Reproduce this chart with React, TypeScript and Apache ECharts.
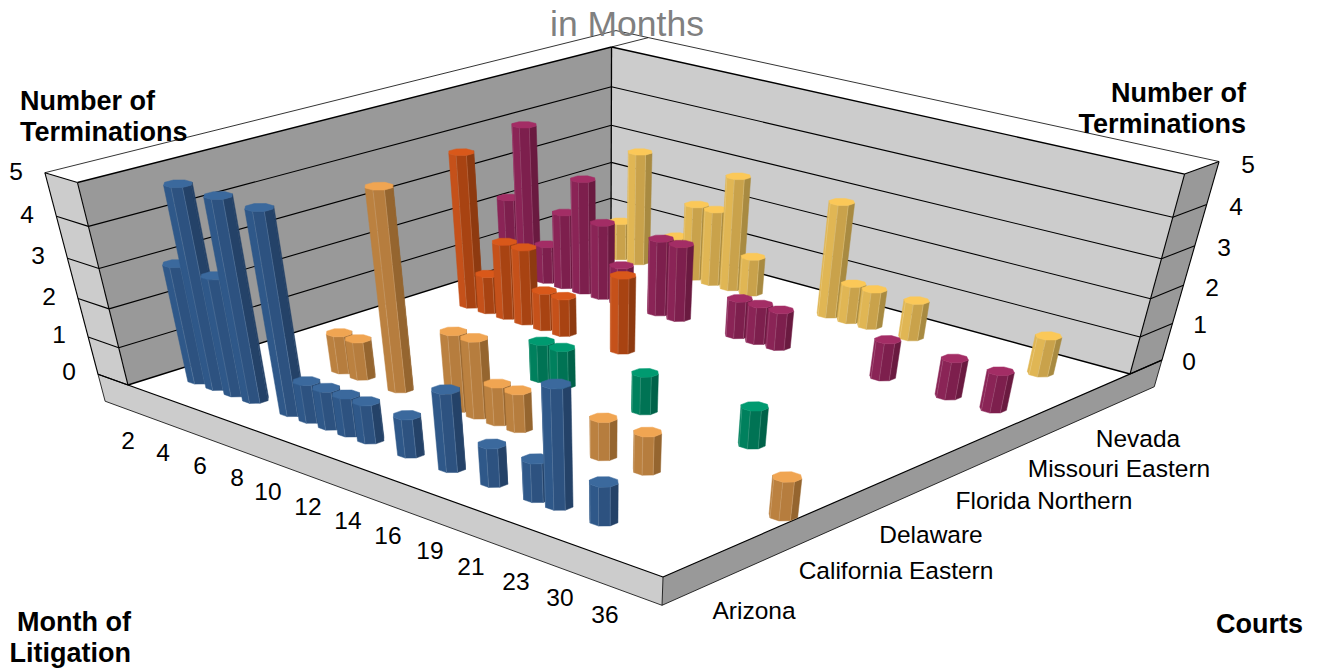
import React, { useEffect, useRef } from "react";
import * as echarts from "echarts";

// ---------- data: [month slot on the axis, number of terminations] ----------
const courts = ["Arizona", "California Eastern", "Delaware", "Florida Northern", "Missouri Eastern", "Nevada"];
const monthLabels = ["2", "4", "6", "8", "10", "12", "14", "16", "19", "21", "23", "30", "36"];
const countLabels = ["0", "1", "2", "3", "4", "5"];

const arizona = [[1, 3], [2, 5], [3, 3], [4, 5], [6, 5], [7, 1], [8, 1], [9, 1], [10, 1], [12, 1], [14, 2], [16, 1], [18, 1], [19, 3], [21, 1]];
const californiaEastern = [[4, 1], [5, 1], [7, 5], [10, 2], [11, 2], [12, 1], [13, 1], [17, 1], [19, 1], [25, 1]];
const delaware = [[10, 1], [11, 1], [15, 1], [20, 1]];
const floridaNorthern = [[2, 4], [3, 1], [4, 2], [5, 2], [6, 1], [7, 1], [10, 2]];
const missouriEastern = [[0, 2], [1, 4], [2, 1], [3, 2], [4, 3], [5, 2], [6, 1], [8, 2], [9, 2], [12, 1], [13, 1], [14, 1], [19, 1], [22, 1], [24, 1]];
const nevada = [[2, 1], [3, 3], [5, 1], [6, 2], [7, 2], [8, 3], [9, 1], [13, 3], [14, 1], [15, 1], [17, 1], [23, 1]];

const rows = [arizona, californiaEastern, delaware, floridaNorthern, missouriEastern, nevada];
// [top, lit side, middle side, shaded side, edge highlight]
const palettes = [
  ["#3b699d", "#2f5889", "#2d5280", "#244268", "#8ea8c6"],
  ["#f0a552", "#bb8140", "#b67d3e", "#95652f", "#e6c8a2"],
  ["#009a70", "#00805d", "#007354", "#006249", "#74c0aa"],
  ["#d9581a", "#c5511a", "#a84312", "#8e3a10", "#e0a888"],
  ["#a32d65", "#8a2456", "#7d1f4d", "#6a1a40", "#c48aa6"],
  ["#fbc858", "#e0b654", "#c9a24b", "#a88a41", "#f2e0b0"],
];

// ---------- layout ----------
const W = 1319;
const H = 669;
const FONT = '"Liberation Sans", Arial, sans-serif';
const monthLabelPos = [[128, 440], [163, 452], [200, 465], [237, 477], [268, 491], [308, 506], [348, 520], [388, 535], [430, 550], [471, 566], [516, 581], [560, 597], [605, 614]];
const courtLabelPos = [[754, 610], [896, 570], [931, 534], [1044, 500], [1119, 468], [1138, 438]];
const leftCountPos = [[69, 371], [59, 334], [49, 296], [38, 255], [27, 214], [16, 171]];
const rightCountPos = [[1189, 361], [1200, 324], [1212, 287], [1224, 247], [1236, 206], [1248, 164]];

// ---------- camera: floor corners, vertical vanishing point ----------
const [x00, y00] = [128, 385];
const [x10, y10] = [663, 577];
const [x11, y11] = [1130, 374];
const [x01, y01] = [611, 233];
const VP = [605, 2297];
const K = -0.01915;
const dx1 = x10 - x11, dx2 = x01 - x11, sx = x00 - x10 + x11 - x01;
const dy1 = y10 - y11, dy2 = y01 - y11, sy = y00 - y10 + y11 - y01;
const det = dx1 * dy2 - dx2 * dy1;
const G = (sx * dy2 - dx2 * sy) / det;
const J = (dx1 * sy - sx * dy1) / det;
const A = x10 - x00 + G * x10, B = x01 - x00 + J * x01;
const D = y10 - y00 + G * y10, E = y01 - y00 + J * y01;

function project(u: number, v: number, h: number): number[] {
  const w = 1 + G * u + J * v;
  const X = A * u + B * v + x00;
  const Y = D * u + E * v + y00;
  const t = h * K;
  return [(X + t * VP[0]) / (w + t), (Y + t * VP[1]) / (w + t)];
}

const SLOTS = 26;
const slotU = (s: number) => (s + 0.5) / SLOTS;
const rowV = (r: number) => (r + 0.5) / courts.length;
const RADIUS = 0.0188;
const SIDES = 8;
const PHASE = -22.5 * (Math.PI / 180);

const renderBar = (row: number) => (_p: any, api: any) => {
  const u = slotU(api.value(0));
  const v = rowV(row);
  const h = api.value(1);
  const pal = palettes[row];
  const base = Math.round((2 - (1 - u + v)) * 1000) * 20;
  const ring: number[][] = [];
  for (let i = 0; i < SIDES; i++) {
    const a = PHASE + (i * 2 * Math.PI) / SIDES;
    ring.push([u + RADIUS * Math.cos(a), v + RADIUS * Math.sin(a)]);
  }
  const facing = (i: number) => {
    const p = ring[(i + SIDES) % SIDES];
    const q = ring[(i + 1 + SIDES) % SIDES];
    const b0 = project(p[0], p[1], 0);
    const b1 = project(q[0], q[1], 0);
    const t0 = project(p[0], p[1], h);
    return (b1[0] - b0[0]) * (t0[1] - b0[1]) - (b1[1] - b0[1]) * (t0[0] - b0[0]) < 0;
  };
  const children: any[] = [];
  for (let i = 0; i < SIDES; i++) {
    if (!facing(i)) continue;
    const p = ring[i];
    const q = ring[(i + 1) % SIDES];
    const b0 = project(p[0], p[1], 0);
    const b1 = project(q[0], q[1], 0);
    const t0 = project(p[0], p[1], h);
    const t1 = project(q[0], q[1], h);
    const mid = (PHASE + ((i + 0.5) * 2 * Math.PI) / SIDES) * (180 / Math.PI);
    const m = ((mid % 360) + 360) % 360;
    let fill = pal[2];
    if (m > 180 && m < 290) fill = pal[1];
    else if (m >= 290 && m < 340) fill = pal[2];
    else fill = pal[3];
    children.push({
      type: "polygon",
      shape: { points: [b0, b1, t1, t0] },
      style: { fill, stroke: fill, lineWidth: 0.5 },
      z2: base + i,
      silent: true,
    });
    // interior facet edges only, not the sliver next to the silhouette
    const width = Math.abs(b1[0] - b0[0]);
    if (facing(i - 1) && width > 3) {
      children.push({
        type: "line",
        shape: { x1: b0[0], y1: b0[1], x2: t0[0], y2: t0[1] },
        style: { stroke: pal[4], lineWidth: 0.6, opacity: 0.45 },
        z2: base + 10 + i,
        silent: true,
      });
    }
  }
  children.push({
    type: "polygon",
    shape: { points: ring.map((p) => project(p[0], p[1], h)) },
    style: { fill: pal[0], stroke: pal[0], lineWidth: 0.5 },
    z2: base + 19,
    silent: true,
  });
  return { type: "group", children };
};

// ---------- frame ----------
const WALL = -0.0659; // wall thickness, outward of u = 0
const BACK = 1.082; // wall thickness, outward of v = 1
const DROP = -0.75; // floor plate thickness
const TOP = 5;

function poly(points: number[][], fill: string, stroke = "none", lineWidth = 0) {
  return { type: "polygon", shape: { points }, style: { fill, stroke, lineWidth }, silent: true };
}
function seg(a: number[], b: number[], lineWidth = 1.1) {
  return { type: "line", shape: { x1: a[0], y1: a[1], x2: b[0], y2: b[1] }, style: { stroke: "#000", lineWidth }, silent: true };
}
function label(text: string, x: number, y: number, extra: any = {}) {
  return {
    type: "text",
    z: 50,
    silent: true,
    style: { text, x, y, fill: "#000", fontSize: 24.5, fontFamily: FONT, textAlign: "center", textVerticalAlign: "middle", ...extra },
  };
}

function buildFrame() {
  const out: any[] = [];
  const P = project;
  out.push(poly([P(0, 1, 0), P(0, 0, 0), P(0, 0, TOP), P(0, 1, TOP)], "#999999"));
  out.push(poly([P(0, 1, 0), P(1, 1, 0), P(1, 1, TOP), P(0, 1, TOP)], "#cccccc"));
  out.push(poly([P(WALL, 0, 0), P(0, 0, 0), P(0, 0, TOP), P(WALL, 0, TOP)], "#cccccc"));
  out.push(poly([P(1, BACK, 0), P(1, 1, 0), P(1, 1, TOP), P(1, BACK, TOP)], "#999999"));
  out.push(poly([P(WALL, 0, 0), P(1, 0, 0), P(1, 0, DROP), P(WALL, 0, DROP)], "#cccccc"));
  out.push(poly([P(1, 0, 0), P(1, BACK, 0), P(1, BACK, DROP), P(1, 0, DROP)], "#999999"));
  for (let h = 0; h <= TOP; h++) {
    const w = h === 0 || h === TOP ? 1.4 : 1.1;
    out.push(seg(P(0, 0, h), P(0, 1, h), w));
    out.push(seg(P(0, 1, h), P(1, 1, h), w));
    out.push(seg(P(WALL, 0, h), P(0, 0, h)));
    out.push(seg(P(1, 1, h), P(1, BACK, h)));
  }
  out.push(seg(P(0, 1, 0), P(0, 1, TOP), 1.3));
  out.push(seg(P(0, 0, 0), P(0, 0, TOP)));
  out.push(seg(P(1, 1, 0), P(1, 1, TOP)));
  out.push(seg(P(WALL, 0, 0), P(WALL, 0, TOP)));
  out.push(seg(P(1, BACK, 0), P(1, BACK, TOP)));
  out.push(seg(P(WALL, 0, TOP), P(WALL, BACK, TOP), 0.8));
  out.push(seg(P(WALL, BACK, TOP), P(0, BACK, TOP), 0.8));
  out.push(seg(P(0, BACK, TOP), P(1, BACK, TOP), 0.8));
  out.push(seg(P(0, 1, TOP), P(0, BACK, TOP), 0.8));
  out.push(seg(P(WALL, 0, 0), P(1, 0, 0), 1.2));
  out.push(seg(P(1, 0, 0), P(1, BACK, 0), 1.2));
  out.push(seg(P(WALL, 0, 0), P(WALL, 0, DROP), 0.8));
  out.push(seg(P(WALL, 0, DROP), P(1, 0, DROP), 0.8));
  out.push(seg(P(1, 0, 0), P(1, 0, DROP), 0.8));
  out.push(seg(P(1, 0, DROP), P(1, BACK, DROP), 0.8));
  out.push(seg(P(1, BACK, 0), P(1, BACK, DROP), 0.8));

  monthLabels.forEach((t, i) => out.push(label(t, monthLabelPos[i][0], monthLabelPos[i][1])));
  courts.forEach((t, i) => out.push(label(t, courtLabelPos[i][0], courtLabelPos[i][1])));
  countLabels.forEach((t, i) => {
    out.push(label(t, leftCountPos[i][0], leftCountPos[i][1]));
    out.push(label(t, rightCountPos[i][0], rightCountPos[i][1]));
  });

  const bold = { fontWeight: "bold", fontSize: 27 };
  out.push(label("in Months", 627, 24, { fill: "#808080", fontSize: 35.5 }));
  out.push(label("Number of", 20, 101, { ...bold, textAlign: "left" }));
  out.push(label("Terminations", 20, 132, { ...bold, textAlign: "left" }));
  out.push(label("Number of", 1246, 93, { ...bold, textAlign: "right" }));
  out.push(label("Terminations", 1246, 124, { ...bold, textAlign: "right" }));
  out.push(label("Month of", 131, 622, { ...bold, textAlign: "right" }));
  out.push(label("Litigation", 131, 653, { ...bold, textAlign: "right" }));
  out.push(label("Courts", 1303, 624, { ...bold, textAlign: "right" }));
  return out;
}

export default function App() {
  const ref = useRef<HTMLDivElement>(null);
  useEffect(() => {
    const chart = echarts.init(ref.current!, undefined, { renderer: "svg", width: W, height: H });
    chart.setOption({
      animation: false,
      backgroundColor: "#ffffff",
      graphic: { elements: buildFrame() },
      series: rows.map((data, r) => ({
        type: "custom",
        name: courts[r],
        coordinateSystem: "none",
        silent: true,
        data,
        renderItem: renderBar(r),
      })),
    });
    return () => chart.dispose();
  }, []);
  return <div ref={ref} style={{ position: "absolute", left: 0, top: 0, width: W, height: H }} />;
}
